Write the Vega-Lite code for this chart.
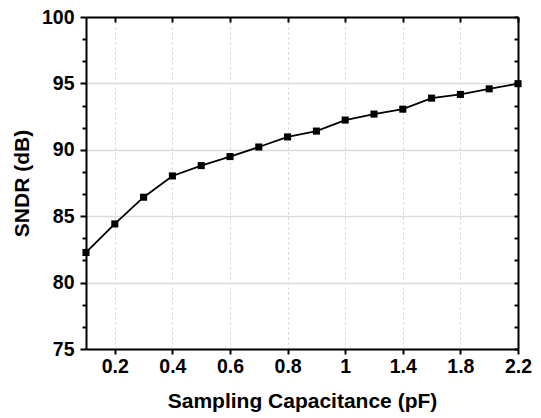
{
  "$schema": "https://vega.github.io/schema/vega-lite/v6.json",
  "width": 432,
  "height": 332,
  "autosize": "none",
  "padding": {"left": 86, "top": 17, "right": 23, "bottom": 69},
  "background": "white",
  "config": {"view": {"stroke": null}, "font": "Liberation Sans"},
  "data": {"values": [
    {"cap": 0.1, "sndr": 82.27},
    {"cap": 0.2, "sndr": 84.42},
    {"cap": 0.3, "sndr": 86.43},
    {"cap": 0.4, "sndr": 88.03},
    {"cap": 0.5, "sndr": 88.81},
    {"cap": 0.6, "sndr": 89.49},
    {"cap": 0.7, "sndr": 90.21},
    {"cap": 0.8, "sndr": 90.97},
    {"cap": 0.9, "sndr": 91.41},
    {"cap": 1.0, "sndr": 92.24},
    {"cap": 1.2, "sndr": 92.69},
    {"cap": 1.4, "sndr": 93.06},
    {"cap": 1.6, "sndr": 93.89},
    {"cap": 1.8, "sndr": 94.17},
    {"cap": 2.0, "sndr": 94.59},
    {"cap": 2.2, "sndr": 94.98}
  ]},
  "layer": [
    {
      "mark": {"type": "line", "color": "black", "strokeWidth": 1.8},
      "encoding": {
        "x": {
          "field": "cap", "type": "quantitative",
          "scale": {"domain": [0.1, 1, 2.2], "range": [0, 259.2, 432], "nice": false, "zero": false},
          "axis": {
            "orient": "bottom",
            "values": [0.2, 0.4, 0.6, 0.8, 1, 1.4, 1.8, 2.2],
            "format": "~g",
            "title": "Sampling Capacitance (pF)",
            "titleFont": "Liberation Sans", "titleFontSize": 21, "titleFontWeight": "bold", "titleColor": "black",
            "titlePadding": 15,
            "labelFont": "Liberation Sans", "labelFontSize": 19.5, "labelFontWeight": "bold", "labelColor": "black",
            "labelPadding": 3, "labelFlush": false,
            "tickSize": 5, "tickWidth": 2, "tickColor": "black",
            "domainColor": "black", "domainWidth": 2,
            "grid": true, "gridColor": "#d0d0d0", "gridDash": [2, 3], "gridWidth": 1
          }
        },
        "y": {
          "field": "sndr", "type": "quantitative",
          "scale": {"domain": [75, 100], "nice": false, "zero": false},
          "axis": {
            "orient": "left",
            "values": [75, 76.6667, 78.3333, 80, 81.6667, 83.3333, 85, 86.6667, 88.3333, 90, 91.6667, 93.3333, 95, 96.6667, 98.3333, 100],
            "labelExpr": "abs(datum.value - round(datum.value/5)*5) < 0.01 ? format(datum.value, 'd') : ''",
            "title": "SNDR (dB)",
            "titleFont": "Liberation Sans", "titleFontSize": 21, "titleFontWeight": "bold", "titleColor": "black",
            "titlePadding": 9,
            "labelFont": "Liberation Sans", "labelFontSize": 19.5, "labelFontWeight": "bold", "labelColor": "black",
            "labelPadding": 6, "labelFlush": false,
            "tickSize": {"condition": {"test": "abs(datum.value - round(datum.value/5)*5) < 0.01", "value": 6}, "value": 4},
            "tickWidth": 2, "tickColor": "black",
            "domainColor": "black", "domainWidth": 2,
            "grid": true, "gridColor": "#dcdcdc", "gridWidth": 1.5,
            "gridOpacity": {"condition": {"test": "abs(datum.value - round(datum.value/5)*5) < 0.01", "value": 1}, "value": 0}
          }
        }
      }
    },
    {
      "mark": {"type": "point", "shape": "square", "filled": true, "color": "black", "size": 50, "opacity": 1},
      "encoding": {
        "x": {"field": "cap", "type": "quantitative", "axis": null},
        "y": {"field": "sndr", "type": "quantitative", "axis": null}
      }
    },
    {
      "mark": {"type": "point", "opacity": 0},
      "encoding": {
        "x": {
          "field": "cap", "type": "quantitative",
          "axis": {
            "orient": "top", "values": [0.2, 0.4, 0.6, 0.8, 1, 1.4, 1.8, 2.2],
            "labels": false, "title": null, "grid": false,
            "tickSize": -5, "tickWidth": 2, "tickColor": "black",
            "domainColor": "black", "domainWidth": 2
          }
        },
        "y": {
          "field": "sndr", "type": "quantitative",
          "axis": {
            "orient": "right",
            "values": [75, 76.6667, 78.3333, 80, 81.6667, 83.3333, 85, 86.6667, 88.3333, 90, 91.6667, 93.3333, 95, 96.6667, 98.3333, 100],
            "labels": false, "title": null, "grid": false,
            "tickSize": -4, "tickWidth": 2, "tickColor": "black",
            "domainColor": "black", "domainWidth": 2
          }
        }
      }
    }
  ],
  "resolve": {"axis": {"x": "independent", "y": "independent"}}
}
